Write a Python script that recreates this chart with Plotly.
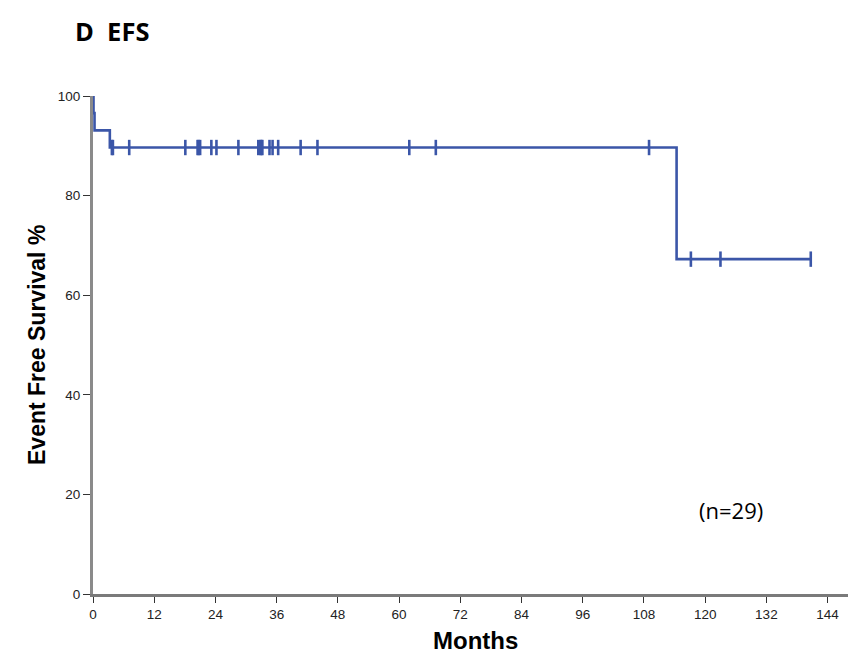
import plotly.graph_objects as go

# Patient follow-up (months) and whether an event occurred (1) or the case was censored (0)
event_times = [0.1, 0.3, 3.3, 114.4]
censor_times = [3.7, 3.9, 7.1, 18.1, 20.5, 20.7, 21.0, 23.2, 24.2, 28.5,
                32.4, 32.8, 33.0, 33.2, 34.6, 35.2, 36.3, 40.7, 44.0,
                62.0, 67.2, 109.0, 117.2, 123.0, 140.7]

x_ticks = [0, 12, 24, 36, 48, 60, 72, 84, 96, 108, 120, 132, 144]
y_ticks = [0, 20, 40, 60, 80, 100]

LINE_BLUE = "#3b56a8"

# Kaplan-Meier estimate
records = sorted([(t, 1) for t in event_times] + [(t, 0) for t in censor_times])
n_at_risk = len(records)
surv = 100.0
step_x, step_y = [0.0], [100.0]
cens_x, cens_y = [], []
for t, ev in records:
    if ev:
        surv *= (1 - 1 / n_at_risk)
        step_x.append(t)
        step_y.append(surv)
    else:
        cens_x.append(t)
        cens_y.append(surv)
    n_at_risk -= 1
step_x.append(records[-1][0])
step_y.append(surv)

fig = go.Figure()
fig.add_trace(go.Scatter(
    x=step_x, y=step_y, mode="lines", line_shape="hv",
    line=dict(color=LINE_BLUE, width=2.6), cliponaxis=False,
    hoverinfo="skip", showlegend=False))
fig.add_trace(go.Scatter(
    x=cens_x, y=cens_y, mode="markers", cliponaxis=False,
    marker=dict(symbol="line-ns", size=11, line=dict(color=LINE_BLUE, width=2.6)),
    showlegend=False))

tick_font = dict(family="Liberation Sans, Arial", size=13.5, color="#222222")
fig.update_layout(
    width=849, height=656,
    margin=dict(l=93, r=1, t=96, b=62),
    paper_bgcolor="white", plot_bgcolor="white",
    xaxis=dict(range=[0, 148], tickvals=x_ticks, showgrid=False, zeroline=False,
               showline=True, linecolor="#7a7a7a", linewidth=3,
               ticks="outside", ticklen=6, tickwidth=1.3, tickcolor="#333333",
               tickfont=tick_font),
    yaxis=dict(range=[0, 100], tickvals=y_ticks, showgrid=False, zeroline=False,
               showline=True, linecolor="#8a8a8a", linewidth=3,
               ticks="outside", ticklen=7, tickwidth=1.3, tickcolor="#333333",
               tickfont=tick_font),
    annotations=[
        dict(text="<b>D  EFS</b>", xref="paper", yref="paper", x=-0.026, y=1.1305,
             xanchor="left", yanchor="middle", showarrow=False,
             font=dict(family="Open Sans", size=25.5, color="black")),
        dict(text="(n=29)", xref="paper", yref="paper", x=0.845, y=0.1687,
             xanchor="center", yanchor="middle", showarrow=False,
             font=dict(family="Open Sans", size=22, color="black")),
        dict(text="<b>Months</b>", xref="paper", yref="paper", x=0.507, y=-0.0924,
             xanchor="center", yanchor="middle", showarrow=False,
             font=dict(family="Liberation Sans, Arial", size=24, color="black")),
        dict(text="<b>Event Free Survival %</b>", xref="paper", yref="paper",
             x=-0.0742, y=0.5, textangle=-90, xanchor="center", yanchor="middle",
             showarrow=False,
             font=dict(family="Liberation Sans, Arial", size=23, color="black")),
    ],
)

fig.write_html("out.html")
